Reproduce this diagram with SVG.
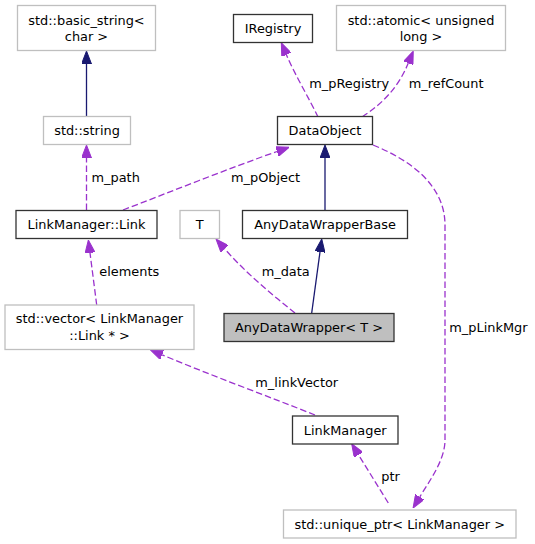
<svg xmlns="http://www.w3.org/2000/svg" width="535" height="544" viewBox="0 0 535 544">
<style>
text{font-family:"DejaVu Sans","Liberation Sans",sans-serif;font-size:12.9px;fill:#000}
.n text{text-anchor:middle}
.g{fill:#fff;stroke:#bfbfbf;stroke-width:1.3}
.b{fill:#fff;stroke:#333;stroke-width:1.3}
.m{fill:#bfbfbf;stroke:#333;stroke-width:1.3}
.inh{fill:none;stroke:#191970;stroke-width:1.3;marker-end:url(#an)}
.use{fill:none;stroke:#9a32cd;stroke-width:1.3;stroke-dasharray:6.5,3;marker-end:url(#ap)}
</style>
<defs>
<marker id="an" markerUnits="userSpaceOnUse" viewBox="0 0 13 10" markerWidth="13" markerHeight="10" refX="0" refY="5" orient="auto"><path d="M0,0 L13,5 L0,10 Z" fill="#191970" stroke="#191970" stroke-width="1"/></marker>
<marker id="ap" markerUnits="userSpaceOnUse" viewBox="0 0 13 10" markerWidth="13" markerHeight="10" refX="0" refY="5" orient="auto"><path d="M0,0 L13,5 L0,10 Z" fill="#9a32cd" stroke="#9a32cd" stroke-width="1"/></marker>
</defs>
<rect width="535" height="544" fill="#fff"/>
<g id="connectors">
<path class="inh" d="M86.5,117 L86.5,64"/>
<path class="use" d="M86.5,210 L86.5,158"/>
<path class="use" d="M123,210 C170,192 230,168 277,151.5"/>
<path class="use" d="M318,117 C310,100 295,75 286.4,54.8"/>
<path class="use" d="M362,117 C382,104 398,88 408.3,63.1"/>
<path class="inh" d="M325,210 L325,158"/>
<path class="inh" d="M311.7,313 L320,251.9"/>
<path class="use" d="M295,313 C270,293 245,272 224.6,248.8"/>
<path class="use" d="M96.7,305 L90,252.9"/>
<path class="use" d="M315,415 C270,397 210,375 162.1,354.8"/>
<path class="use" d="M388.3,503 L358.5,454.8"/>
<path class="use" d="M373,145 C410,160 445,185 445,225 L445,440 C445,460 430,480 419.8,496.9"/>
<text x="91.5" y="182">m_path</text>
<text x="231" y="182">m_pObject</text>
<text x="309.3" y="88">m_pRegistry</text>
<text x="408.7" y="88">m_refCount</text>
<text x="99.3" y="276">elements</text>
<text x="261.7" y="276">m_data</text>
<text x="449.3" y="332">m_pLinkMgr</text>
<text x="255.3" y="387">m_linkVector</text>
<text x="381.3" y="481">ptr</text>
</g>
<g id="basic_string" class="n"><rect class="g" x="17.5" y="5.5" width="138" height="45"/><text x="86.5" y="24.5">std::basic_string&lt;</text><text x="86.5" y="41">char &gt;</text></g>
<g id="string" class="n"><rect class="g" x="43.5" y="116.5" width="87" height="28"/><text x="87" y="135">std::string</text></g>
<g id="IRegistry" class="n"><rect class="b" x="233.5" y="14.5" width="79" height="28"/><text x="273" y="33">IRegistry</text></g>
<g id="atomic" class="n"><rect class="g" x="336.5" y="5.5" width="169" height="45"/><text x="421" y="24.5">std::atomic&lt; unsigned</text><text x="421" y="41">long &gt;</text></g>
<g id="DataObject" class="n"><rect class="b" x="277.5" y="116.5" width="95" height="28"/><text x="325" y="135">DataObject</text></g>
<g id="Link" class="n"><rect class="b" x="16" y="210.5" width="141" height="28"/><text x="86.5" y="229.4">LinkManager::Link</text></g>
<g id="T" class="n"><rect class="g" x="180" y="210.5" width="39.5" height="28"/><text x="199.7" y="229.4">T</text></g>
<g id="AnyDataWrapperBase" class="n"><rect class="b" x="242.5" y="210.5" width="165" height="28"/><text x="325" y="229.4">AnyDataWrapperBase</text></g>
<g id="AnyDataWrapper" class="n"><rect class="m" x="224" y="313.5" width="170" height="28"/><text x="309" y="332">AnyDataWrapper&lt; T &gt;</text></g>
<g id="vector" class="n"><rect class="g" x="5" y="305" width="189" height="44.5"/><text x="99.5" y="323">std::vector&lt; LinkManager</text><text x="99.5" y="339.6">::Link * &gt;</text></g>
<g id="LinkManager" class="n"><rect class="b" x="292.5" y="416" width="105.5" height="28"/><text x="345.2" y="434.5">LinkManager</text></g>
<g id="unique_ptr" class="n"><rect class="g" x="283.5" y="510" width="232.5" height="28"/><text x="399.7" y="528.5">std::unique_ptr&lt; LinkManager &gt;</text></g>
</svg>
